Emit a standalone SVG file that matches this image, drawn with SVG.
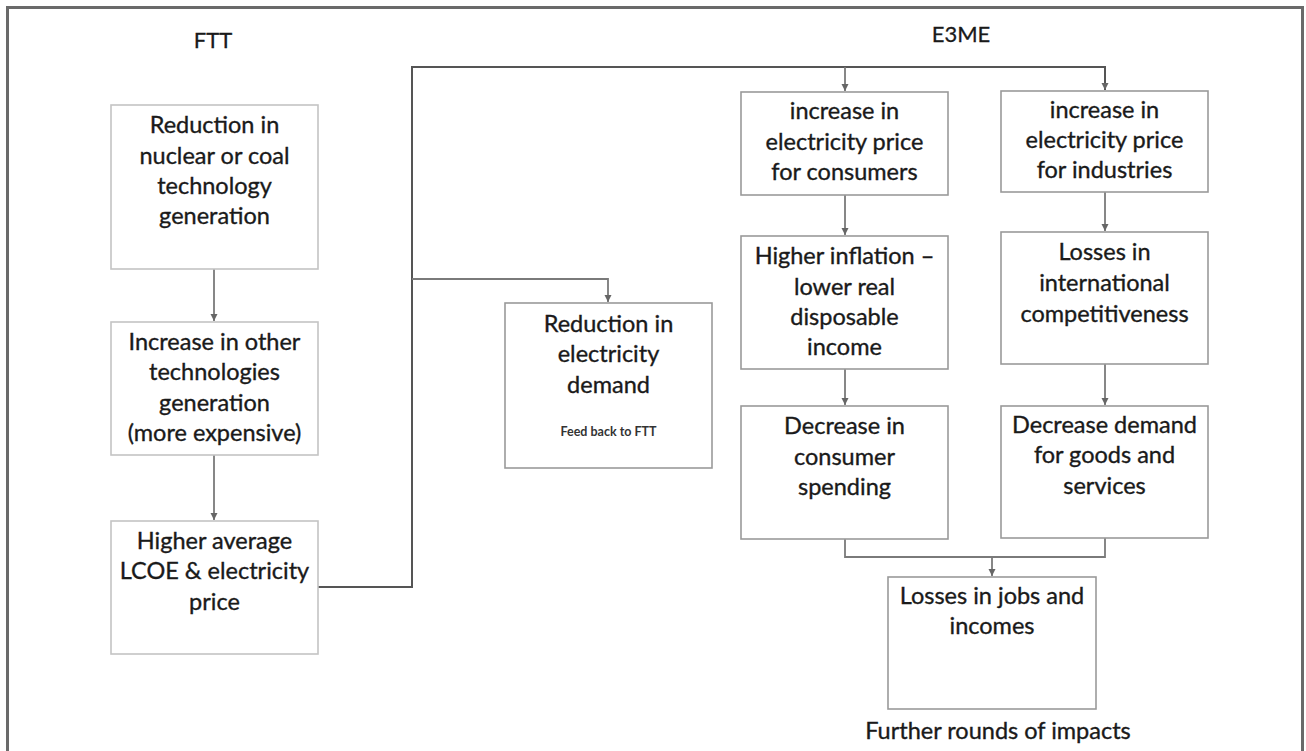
<svg xmlns="http://www.w3.org/2000/svg" width="1306" height="751" viewBox="0 0 1306 751">
<defs>
<style>
.t{font-family:Lato,"Noto Sans","Liberation Sans",sans-serif;font-size:23.5px;fill:#1a1a1a;stroke:#1a1a1a;stroke-width:0.35;text-anchor:middle}
.h{font-family:Lato,"Noto Sans","Liberation Sans",sans-serif;font-size:22px;fill:#1a1a1a;stroke:#1a1a1a;stroke-width:0.3;text-anchor:middle}
.small{font-family:Lato,"Noto Sans","Liberation Sans",sans-serif;font-size:12.5px;font-weight:bold;fill:#333;text-anchor:middle}
.box{fill:#fff;stroke:#9a9a9a;stroke-width:1.6}
.boxl{fill:#fff;stroke:#c4c4c4;stroke-width:1.6}
.c{fill:none;stroke:#7a7a7a;stroke-width:1.8}
.cd{fill:none;stroke:#555;stroke-width:2}
</style>
<marker id="ah" markerUnits="userSpaceOnUse" markerWidth="8" markerHeight="8" refX="7" refY="4" orient="auto">
<path d="M0,0.5 L7,4 L0,7.5 z" fill="#666"/>
</marker>
</defs>
<rect width="1306" height="751" fill="#fff"/>
<path d="M7.5,760 V7.5 H1302.5 V760" fill="none" stroke="#6a6a6a" stroke-width="3"/>
<g id="titles">
<text class="h" x="213" y="48">FTT</text>
<text class="h" x="961" y="42">E3ME</text>
</g>
<g id="connectors">
<path class="c" d="M214,269 V321" marker-end="url(#ah)"/>
<path class="c" d="M214,455 V520" marker-end="url(#ah)"/>
<path class="cd" d="M318,587 H412 V67 H1105 V90" marker-end="url(#ah)"/>
<path class="c" d="M845,67 V91" marker-end="url(#ah)"/>
<path class="c" d="M412,279 H608 V302" marker-end="url(#ah)"/>
<path class="c" d="M845,195 V235" marker-end="url(#ah)"/>
<path class="c" d="M845,369 V405" marker-end="url(#ah)"/>
<path class="c" d="M1105,192 V231" marker-end="url(#ah)"/>
<path class="c" d="M1105,364 V405" marker-end="url(#ah)"/>
<path class="c" d="M845,539 V557 H1105 V538"/>
<path class="c" d="M992,557 V576" marker-end="url(#ah)"/>
</g>
<g id="n1">
<rect class="boxl" x="111" y="105" width="207" height="164"/>
<text class="t" x="214.5" y="133">Reduction in</text>
<text class="t" x="214.5" y="164">nuclear or coal</text>
<text class="t" x="214.5" y="194">technology</text>
<text class="t" x="214.5" y="224">generation</text>
</g>
<g id="n2">
<rect class="boxl" x="111" y="322" width="207" height="133"/>
<text class="t" x="214.5" y="350">Increase in other</text>
<text class="t" x="214.5" y="380">technologies</text>
<text class="t" x="214.5" y="411">generation</text>
<text class="t" x="214.5" y="441">(more expensive)</text>
</g>
<g id="n3">
<rect class="boxl" x="111" y="521" width="207" height="133"/>
<text class="t" x="214.5" y="549">Higher average</text>
<text class="t" x="214.5" y="579">LCOE &amp; electricity</text>
<text class="t" x="214.5" y="610">price</text>
</g>
<g id="n4">
<rect class="box" x="505" y="303" width="207" height="165"/>
<text class="t" x="608.5" y="332">Reduction in</text>
<text class="t" x="608.5" y="362">electricity</text>
<text class="t" x="608.5" y="393">demand</text>
<text class="small" x="608.5" y="436">Feed back to FTT</text>
</g>
<g id="n5">
<rect class="box" x="741" y="92" width="207" height="103"/>
<text class="t" x="844.5" y="119">increase in</text>
<text class="t" x="844.5" y="150">electricity price</text>
<text class="t" x="844.5" y="180">for consumers</text>
</g>
<g id="n6">
<rect class="box" x="1001" y="91" width="207" height="101"/>
<text class="t" x="1104.5" y="118">increase in</text>
<text class="t" x="1104.5" y="148">electricity price</text>
<text class="t" x="1104.5" y="178">for industries</text>
</g>
<g id="n7">
<rect class="box" x="741" y="236" width="207" height="133"/>
<text class="t" x="844.5" y="264">Higher inflation –</text>
<text class="t" x="844.5" y="295">lower real</text>
<text class="t" x="844.5" y="325">disposable</text>
<text class="t" x="844.5" y="355">income</text>
</g>
<g id="n8">
<rect class="box" x="1001" y="232" width="207" height="132"/>
<text class="t" x="1104.5" y="260">Losses in</text>
<text class="t" x="1104.5" y="291">international</text>
<text class="t" x="1104.5" y="322">competitiveness</text>
</g>
<g id="n9">
<rect class="box" x="741" y="406" width="207" height="133"/>
<text class="t" x="844.5" y="434">Decrease in</text>
<text class="t" x="844.5" y="465">consumer</text>
<text class="t" x="844.5" y="495">spending</text>
</g>
<g id="n10">
<rect class="box" x="1001" y="406" width="207" height="132"/>
<text class="t" x="1104.5" y="433">Decrease demand</text>
<text class="t" x="1104.5" y="463">for goods and</text>
<text class="t" x="1104.5" y="494">services</text>
</g>
<g id="n11">
<rect class="box" x="888" y="577" width="208" height="132"/>
<text class="t" x="992" y="604">Losses in jobs and</text>
<text class="t" x="992" y="634">incomes</text>
</g>
<g id="further">
<text class="t" x="998" y="739">Further rounds of impacts</text>
</g>
</svg>
